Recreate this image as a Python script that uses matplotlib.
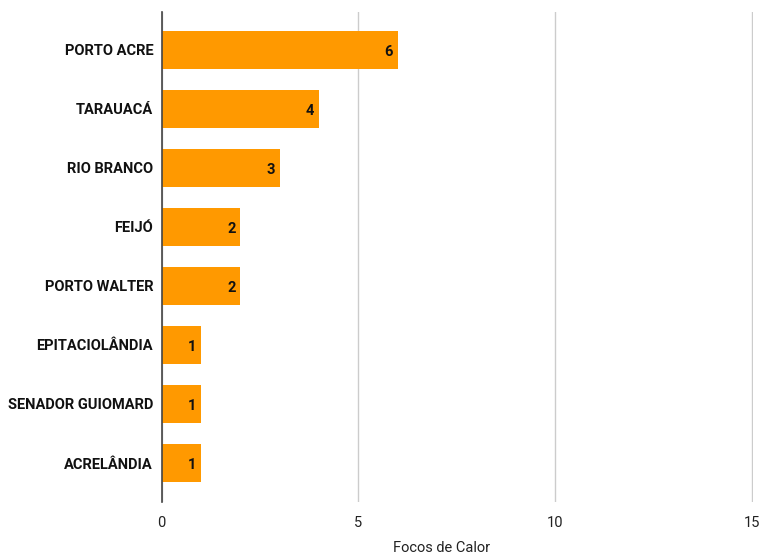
import numpy as np
import matplotlib.pyplot as plt

plt.rcParams['font.family'] = ['Roboto', 'DejaVu Sans']

municipios = ["PORTO ACRE", "TARAUACÁ", "RIO BRANCO", "FEIJÓ", "PORTO WALTER",
              "EPITACIOLÂNDIA", "SENADOR GUIOMARD", "ACRELÂNDIA"]
focos = [6, 4, 3, 2, 2, 1, 1, 1]
xticks = [0, 5, 10, 15]

fig = plt.figure(figsize=(7.59, 5.54), dpi=100)
ax = fig.add_axes([0.2128, 0.0939, 0.7790, 0.8845])

y = np.arange(len(municipios))
ax.barh(y, focos, height=0.65, color="#ff9900", zorder=3)

for yi, v in zip(y, focos):
    ax.text(v - 0.12, yi + 0.03, str(v), ha="right", va="center",
            fontsize=10.5, fontweight="bold", color="#111111", zorder=4)

ax.set_xlim(0, 15.02)
ax.set_ylim(len(municipios) - 0.34, -0.64)
ax.set_yticks(y)
ax.set_yticklabels(municipios, fontsize=10.5, fontweight="bold", color="#111111")
ax.set_xticks(xticks)
ax.set_xticklabels([str(t) for t in xticks], fontsize=10.5, color="#222222")
ax.tick_params(axis="both", length=0)
ax.tick_params(axis="y", pad=6)
ax.tick_params(axis="x", pad=10)

ax.grid(axis="x", color="#cccccc", linewidth=1, zorder=0)
for s in ["top", "right", "bottom"]:
    ax.spines[s].set_visible(False)
ax.spines["left"].set_color("#444444")
ax.spines["left"].set_linewidth(1.2)
ax.spines["left"].set_zorder(5)

fig.text(442 / 759, 1 - 548 / 554, "Focos de Calor", ha="center", va="center",
         fontsize=10.5, color="#222222")

fig.savefig("out.png", dpi=100)
